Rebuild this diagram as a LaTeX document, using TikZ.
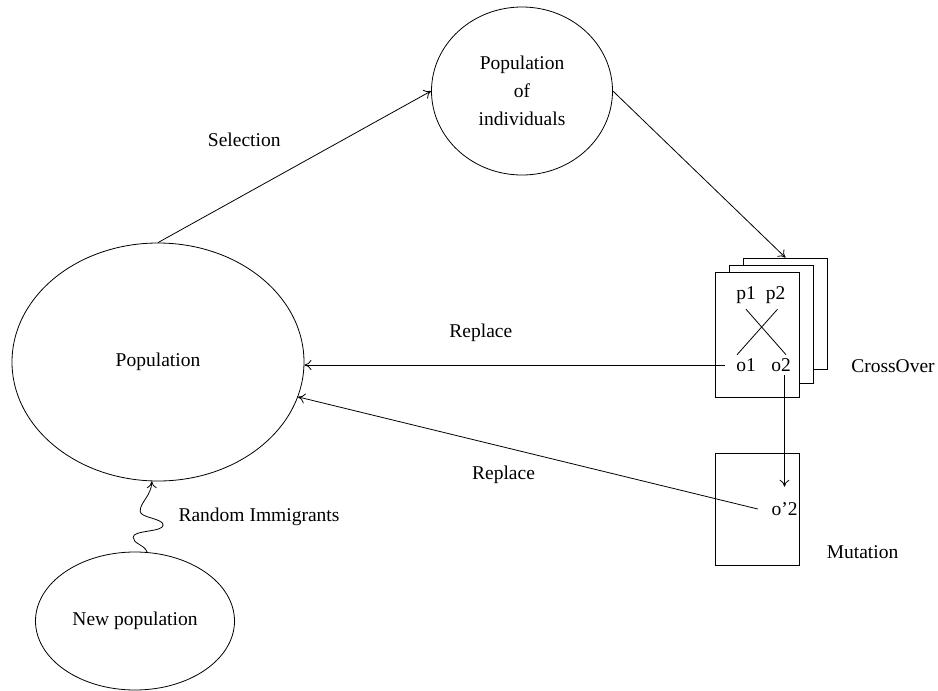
\documentclass[tikz,border=0pt]{standalone}
\usepackage{fontspec}
\setmainfont{Liberation Serif}
\usetikzlibrary{arrows.meta,shapes.geometric,positioning}

\begin{document}
\begin{tikzpicture}[x=1pt, y=-1pt, on grid, >={To[length=7pt,width=10pt]}, line width=0.8pt,
    every node/.style={font=\fontsize{19.5}{28}\selectfont},
    pool/.style={draw, ellipse, inner sep=0pt},
    page/.style={draw, fill=white, rectangle, minimum width=84pt, inner sep=0pt}]
        \useasboundingbox (0,0) rectangle (938,691);

        \node[pool, minimum width=292pt, minimum height=238pt]  (pop)    at (158,362)                            {Population};
        \node[pool, minimum width=181pt, minimum height=168pt, align=center]
                                                                (popind) [above right=271pt and 364pt of pop]   {Population\\of\\individuals};
        \node[pool, minimum width=199pt, minimum height=138pt]  (newpop) [below left=259pt and 23pt of pop]     {New population};

        \node[page, minimum height=111pt]  (back)  [below right=222.5pt and 263.5pt of popind] {};
        \node[page, minimum height=118pt]  (mid)   [below left=10.5pt and 14pt of back]         {};
        \node[page, minimum height=125pt]  (front) [below left=10.5pt and 14pt of mid]          {};
        \node[page, minimum height=112pt]  (mut)   [below=174.5pt of front]                     {};

        \node (p1)  [above left=39.5pt and 11.5pt of front]  {p1};
        \node (p2)  [above right=39.5pt and 18pt of front]   {p2};
        \node (o1)  [below left=30.5pt and 11.5pt of front]  {o1};
        \node (o2)  [below right=30.5pt and 23.5pt of front] {o2};
        \node (mo2) [right=27pt of mut]                      {o'2};

        \node (cross)    [below right=52.5pt and 107.5pt of back] {CrossOver};
        \node (mutlabel) [below right=43pt and 105pt of mut]      {Mutation};
        \node (immig)    [above right=104pt and 124pt of newpop]  {Random Immigrants};

        \path   ([yshift=-2pt]p1.south)             edge ([xshift=5pt]o2.north)
                ([xshift=2pt, yshift=-2pt]p2.south) edge ([xshift=-9pt]o1.north);

        \path[->]
                (pop.north) edge node [pos=0.4, xshift=-23pt, yshift=42pt] {Selection} (popind.west)
                (popind.east) edge (back.north)
                ([xshift=-8pt]o1.west) edge node [pos=0.58, yshift=32pt] {Replace} (o1.west -| pop.east)
                (o2.south -| mo2.north) edge [shorten >=12pt] (mo2.north)
                ([xshift=-10pt]mo2.west) edge node [pos=0.54, xshift=-6pt, yshift=-26pt] {Replace} (pop.-14);

        % wavy immigrants arrow
        \draw[->] (newpop.80) .. controls +(-3,-8) and +(0,7) .. ++(-14,-15)
                              .. controls +(0,-7) and +(0,7) .. ++(30,-12)
                              .. controls +(0,-7) and +(0,7) .. ++(-23,-14)
                              .. controls +(0,-9) and +(0,14) .. (pop.-93);

\end{tikzpicture}
\end{document}
